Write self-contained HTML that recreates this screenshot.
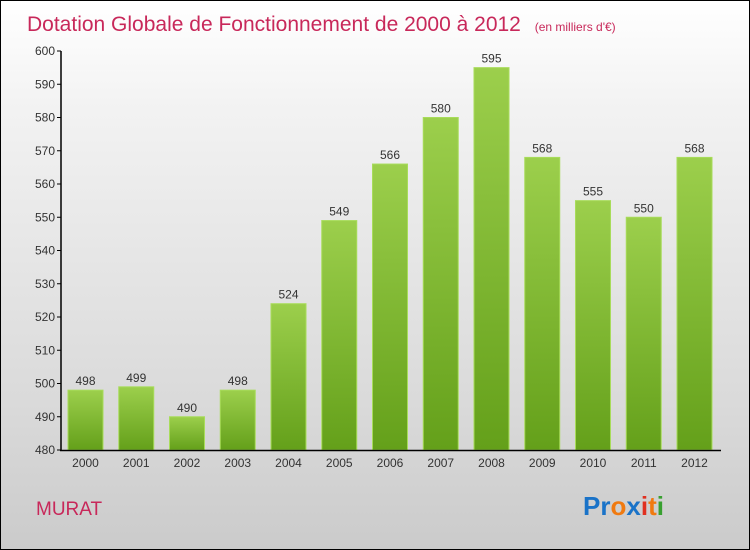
<!DOCTYPE html>
<html><head><meta charset="utf-8"><style>
body{margin:0}
#c{width:748px;height:548px;border:1px solid #000;background:linear-gradient(#fff,#f2f2f2 20%,#d9d9d9 75%,#cbcbcb);position:relative;font-family:"Liberation Sans",sans-serif;overflow:hidden}
</style></head><body>
<div id="c">
<svg width="748" height="548">
<defs><linearGradient id="g" x1="0" y1="0" x2="0" y2="1"><stop offset="0" stop-color="#9ccf4c"/><stop offset="1" stop-color="#64a01a"/></linearGradient></defs>
<text x="26" y="30" font-size="21" fill="#c8285a">Dotation Globale de Fonctionnement de 2000 à 2012 <tspan font-size="12" dx="8">(en milliers d'€)</tspan></text>
<g id="plot"></g>
<text x="35" y="514" font-size="19" fill="#c8285a">MURAT</text>
<text x="582" y="514" font-size="26" font-weight="bold"><tspan fill="#1a73c8">Pr</tspan><tspan fill="#f07a10">o</tspan><tspan fill="#1a73c8">x</tspan><tspan fill="#e03020">i</tspan><tspan fill="#f07a10">t</tspan><tspan fill="#38a030">i</tspan></text>
</svg></div>
<script>
const years=["2000","2001","2002","2003","2004","2005","2006","2007","2008","2009","2010","2011","2012"];
const values=[498,499,490,498,524,549,566,580,595,568,555,550,568];
const ticks=[480,490,500,510,520,530,540,550,560,570,580,590,600];
const g=document.getElementById('plot');const NS="http://www.w3.org/2000/svg";
const y=v=>449-(v-480)*(399/120);const x=i=>67+i*50.75;
function mk(t,a){const e=document.createElementNS(NS,t);for(const k in a)e.setAttribute(k,a[k]);g.appendChild(e);return e;}
ticks.forEach(t=>{const l=mk('line',{x1:56,x2:60,y1:y(t),y2:y(t),stroke:'#000'});


const tx=mk('text',{x:54,y:y(t)+4,'font-size':12,'text-anchor':'end',fill:'#333'});tx.textContent=t;

});
values.forEach((v,i)=>{const r=mk('rect',{x:x(i),y:y(v),width:35,height:449-y(v),fill:'url(#g)',stroke:'#a8dc5a','stroke-width':1});


const t=mk('text',{x:x(i)+17.5,y:y(v)-5,'font-size':12,'text-anchor':'middle',fill:'#333'});t.textContent=v;


const xl=mk('text',{x:x(i)+17.5,y:466,'font-size':12,'text-anchor':'middle',fill:'#333'});xl.textContent=years[i];

});
const ax=mk('line',{x1:60,x2:60,y1:y(600),y2:450,stroke:'#000','stroke-width':1.5});


const bx=mk('line',{x1:59,x2:720,y1:449.5,y2:449.5,stroke:'#000','stroke-width':1.5});


</script>
</body></html>
